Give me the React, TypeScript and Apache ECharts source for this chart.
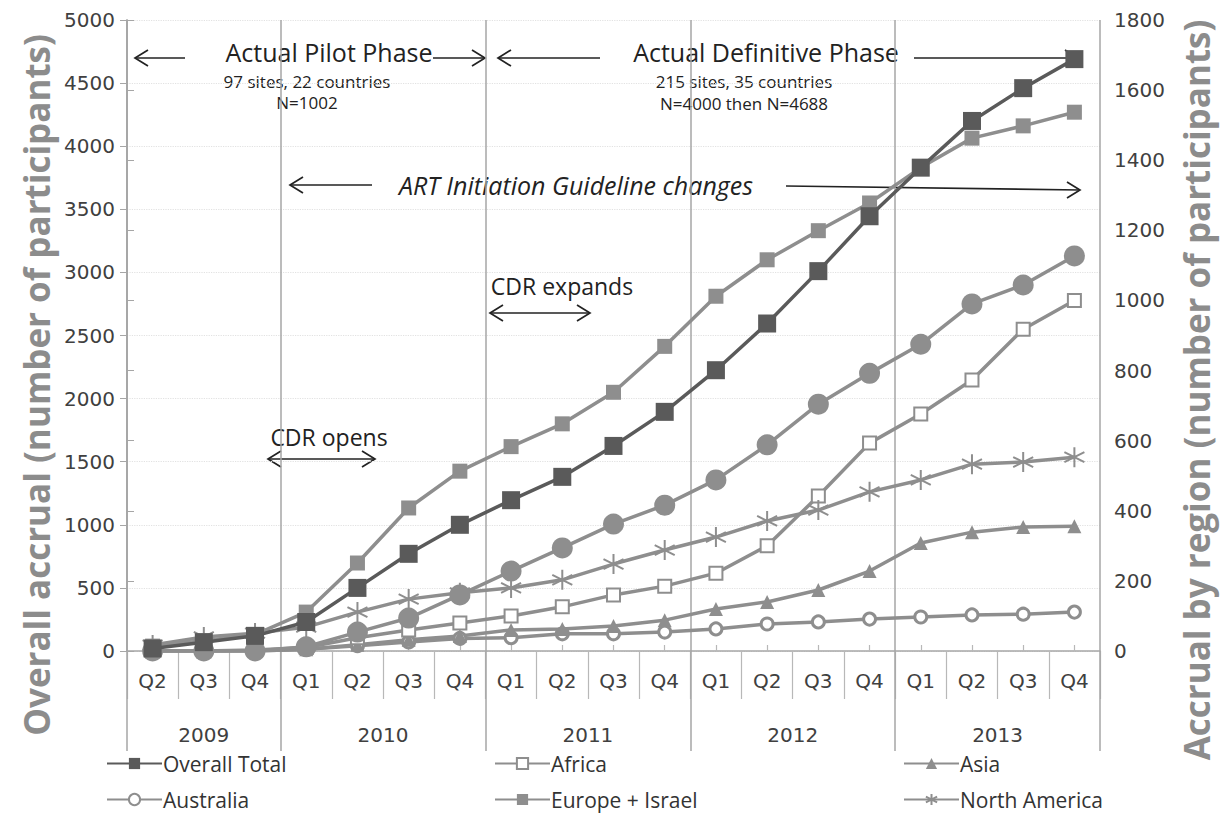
import React, { useEffect, useRef } from "react";
import * as echarts from "echarts";

const quarterKeys = [
  "2009 Q2", "2009 Q3", "2009 Q4",
  "2010 Q1", "2010 Q2", "2010 Q3", "2010 Q4",
  "2011 Q1", "2011 Q2", "2011 Q3", "2011 Q4",
  "2012 Q1", "2012 Q2", "2012 Q3", "2012 Q4",
  "2013 Q1", "2013 Q2", "2013 Q3", "2013 Q4",
];
const years = ["2009", "2010", "2011", "2012", "2013"];
const yearBoundaries = [0, 3, 7, 11, 15, 19];
const yearCenters = [1.5, 5, 9, 13, 17];

const overallTotal = [20, 70, 120, 230, 500, 770, 1000, 1195, 1380, 1625, 1895, 2225, 2595, 3010, 3445, 3830, 4200, 4460, 4690];
const europeIsrael = [14, 29, 47, 111, 251, 408, 513, 583, 648, 738, 869, 1012, 1116, 1199, 1278, 1379, 1463, 1498, 1537];
const unlabelledRegion = [0, 0, 0, 12, 54, 94, 160, 228, 294, 362, 416, 488, 588, 704, 792, 875, 990, 1044, 1127];
const africa = [0, 0, 3, 10, 38, 60, 80, 100, 126, 160, 185, 222, 300, 442, 593, 676, 773, 918, 1000];
const asia = [0, 0, 0, 5, 18, 32, 43, 60, 63, 71, 88, 120, 140, 174, 228, 308, 339, 354, 356];
const australia = [0, 0, 0, 5, 15, 26, 36, 38, 49, 49, 54, 63, 77, 83, 91, 97, 103, 105, 111];
const northAmerica = [17, 40, 51, 68, 111, 148, 166, 180, 203, 248, 288, 325, 371, 402, 454, 488, 533, 539, 553];

// legend layout: [series name, column, row]
const legendItems: [string, number, number][] = [
  ["Overall Total", 0, 0],
  ["Africa", 1, 0],
  ["Asia", 2, 0],
  ["Australia", 0, 1],
  ["Europe + Israel", 1, 1],
  ["North America", 2, 1],
];
const legendColumnsX = [106, 494, 903];
const legendRowsY = [753, 789];

const DARK = "#5a5a5a";
const LIGHT = "#8e8e8e";
const AXIS = "#a6a6a6";
const LABEL = "#404040";
const FONT = "'DejaVu Sans', 'Open Sans', sans-serif";
const ANN_FONT = "'Open Sans', 'Noto Sans', sans-serif";
const ASTERISK = "path://M0,-10L0,10M-8.66,-5L8.66,5M-8.66,5L8.66,-5";

function arrowHead(x: number, y: number, dir: number) {
  return {
    type: "polyline",
    shape: { points: [[x - dir * 13, y - 8], [x, y], [x - dir * 13, y + 8]] },
    style: { stroke: "#222", lineWidth: 1.7, fill: "none" },
  };
}
function arrowLine(x1: number, y1: number, x2: number, y2: number) {
  return {
    type: "line",
    shape: { x1, y1, x2, y2 },
    style: { stroke: "#222", lineWidth: 1.7 },
  };
}
function txt(x: number, y: number, text: string, size: number, italic = false) {
  return {
    type: "text",
    x,
    y,
    style: {
      text,
      fontSize: size,
      lineHeight: Math.round(size * 0.9),
      fontFamily: ANN_FONT,
      fontStyle: italic ? "italic" : "normal",
      fill: "#222",
      align: "center",
      verticalAlign: "middle",
    },
  };
}
function axisTitle(x: number, y: number, text: string, rotation: number) {
  return {
    type: "text",
    x,
    y,
    rotation,
    style: {
      text,
      fontSize: 35,
      fontWeight: "bold",
      fontFamily: ANN_FONT,
      fill: "#8c8c8c",
      align: "center",
      verticalAlign: "middle",
    },
  };
}

export default function App() {
  const ref = useRef<HTMLDivElement>(null);
  useEffect(() => {
    document.body.style.margin = "0";
    const chart = echarts.init(ref.current!, null, { renderer: "svg" });
    const lineSeries = (name: string, data: number[], yIdx: number, extra: any) => ({
      name,
      type: "line",
      data,
      yAxisIndex: yIdx,
      xAxisIndex: 0,
      showAllSymbol: true,
      lineStyle: { color: LIGHT, width: 3.5 },
      itemStyle: { color: LIGHT },
      ...extra,
    });
    const option: any = {
      animation: false,
      backgroundColor: "#fff",
      grid: { left: 127, right: 123, top: 20, bottom: 166 },
      xAxis: [
        {
          type: "category",
          data: quarterKeys,
          boundaryGap: true,
          position: "bottom",
          axisLine: { show: true, lineStyle: { color: AXIS, width: 1.5 } },
          axisTick: { show: true, interval: 0, length: 48, lineStyle: { color: "#b8b8b8", width: 1.2 } },
          axisLabel: {
            interval: 0,
            margin: 20,
            fontSize: 20,
            fontFamily: FONT,
            color: LABEL,
            formatter: (v: string) => v.split(" ")[1],
          },
          splitLine: { show: false },
        },
        {
          type: "value",
          min: 0,
          max: 19,
          position: "bottom",
          axisLine: { show: false },
          axisTick: { show: true, customValues: yearBoundaries, length: 100, lineStyle: { color: AXIS, width: 1.5 } },
          axisLabel: {
            show: true,
            customValues: yearCenters,
            margin: 74,
            fontSize: 20,
            fontFamily: FONT,
            color: LABEL,
            formatter: (v: number) => years[yearCenters.indexOf(v)] ?? "",
          },
          splitLine: { show: true, lineStyle: { color: AXIS, width: 1.5 } },
        },
        {
          type: "value",
          min: 0,
          max: 19,
          position: "bottom",
          axisLine: { show: false },
          axisTick: {
            show: true,
            inside: true,
            length: 6,
            customValues: quarterKeys.map((_, i) => i + 0.5),
            lineStyle: { color: "#b8b8b8", width: 1.2 },
          },
          axisLabel: { show: false },
          splitLine: { show: false },
        },
      ],
      yAxis: [
        {
          type: "value",
          min: 0,
          max: 5000,
          interval: 500,
          position: "left",
          axisLine: { show: true, lineStyle: { color: AXIS, width: 1.5 } },
          axisTick: { show: true, length: 7, lineStyle: { color: AXIS } },
          axisLabel: { fontSize: 20, fontFamily: FONT, color: LABEL, margin: 12, formatter: (v: number) => String(v) },
          splitLine: { show: true, lineStyle: { color: "#e2e2e2", type: "dotted", width: 1.2 } },
        },
        {
          type: "value",
          min: 0,
          max: 1800,
          interval: 200,
          position: "right",
          axisLine: { show: true, lineStyle: { color: AXIS, width: 1.5 } },
          axisTick: { show: true, length: 7, lineStyle: { color: AXIS } },
          axisLabel: { fontSize: 20, fontFamily: FONT, color: LABEL, margin: 14, formatter: (v: number) => String(v) },
          splitLine: { show: false },
        },
      ],
      legend: legendItems.map(([name, col, row]) => ({
        left: legendColumnsX[col],
        top: legendRowsY[row],
        padding: 0,
        itemWidth: 55,
        itemHeight: 14,
        textStyle: { fontSize: 21, fontFamily: ANN_FONT, color: "#333", padding: [0, 0, 0, -4] },
        data: [name],
      })),
      series: [
        lineSeries("Australia", australia, 1, {
          symbol: "circle",
          symbolSize: 12,
          itemStyle: { color: "#fff", borderColor: LIGHT, borderWidth: 3 },
        }),
        lineSeries("Asia", asia, 1, { symbol: "triangle", symbolSize: 14 }),
        lineSeries("Africa", africa, 1, {
          symbol: "rect",
          symbolSize: 13,
          itemStyle: { color: "#fff", borderColor: LIGHT, borderWidth: 2 },
        }),
        lineSeries("North America", northAmerica, 1, {
          symbol: ASTERISK,
          symbolSize: 20,
          itemStyle: { color: LIGHT, borderColor: LIGHT, borderWidth: 2 },
        }),
        lineSeries("Unlabelled region", unlabelledRegion, 1, { symbol: "circle", symbolSize: 21 }),
        lineSeries("Europe + Israel", europeIsrael, 1, { symbol: "rect", symbolSize: 15 }),
        lineSeries("Overall Total", overallTotal, 0, {
          symbol: "rect",
          symbolSize: 18,
          z: 5,
          lineStyle: { color: DARK, width: 3.5 },
          itemStyle: { color: DARK },
        }),
      ],
      graphic: [
        axisTitle(36, 385, "Overall accrual (number of participants)", Math.PI / 2),
        axisTitle(1196, 390, "Accrual by region (number of participants)", Math.PI / 2),
        // Pilot phase
        arrowLine(135, 58, 185, 58),
        arrowHead(135, 58, -1),
        txt(329, 52, "Actual Pilot Phase", 25),
        arrowLine(433, 58, 485, 58),
        arrowHead(485, 58, 1),
        txt(307, 81, "97 sites, 22 countries", 17),
        txt(307, 102, "N=1002", 17),
        // Definitive phase
        arrowLine(498, 58, 600, 58),
        arrowHead(498, 58, -1),
        txt(766, 52, "Actual Definitive Phase", 25),
        arrowLine(914, 58, 1078, 58),
        arrowHead(1078, 58, 1),
        txt(744, 81, "215 sites, 35 countries", 17),
        txt(744, 103, "N=4000 then N=4688", 17),
        // ART guideline
        arrowLine(290, 185, 372, 185),
        arrowHead(290, 185, -1),
        txt(576, 185, "ART Initiation Guideline changes", 25, true),
        arrowLine(786, 186, 1080, 190),
        arrowHead(1080, 190, 1),
        // CDR expands
        txt(562, 286, "CDR expands", 23),
        arrowLine(490, 313, 590, 313),
        arrowHead(490, 313, -1),
        arrowHead(590, 313, 1),
        // CDR opens
        txt(329, 437, "CDR opens", 23),
        arrowLine(268, 459, 375, 459),
        arrowHead(268, 459, -1),
        arrowHead(375, 459, 1),
      ],
    };
    chart.setOption(option);
    return () => chart.dispose();
  }, []);
  return <div ref={ref} style={{ width: 1223, height: 817 }} />;
}
